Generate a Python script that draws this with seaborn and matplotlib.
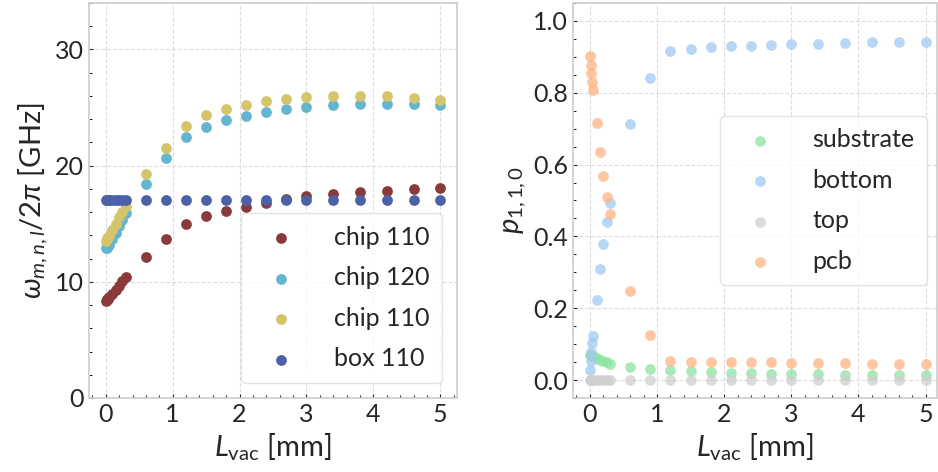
import numpy as np
import pandas as pd
import matplotlib
matplotlib.use("Agg")
import matplotlib.pyplot as plt
from matplotlib.ticker import MultipleLocator
import seaborn as sns

# =========================
# DATA
# =========================
L_vac = [0, 0.0125, 0.025, 0.0375, 0.05, 0.1, 0.15, 0.2, 0.25, 0.3,
         0.6, 0.9, 1.2, 1.5, 1.8, 2.1, 2.4, 2.7, 3.0, 3.4, 3.8, 4.2, 4.6, 5.0]

# mode frequencies [GHz]
chip_110_a = [8.32, 8.40, 8.48, 8.56, 8.65, 8.98, 9.32, 9.68, 10.03, 10.38,
              12.13, 13.65, 14.94, 15.66, 16.12, 16.46, 16.80, 17.12, 17.35,
              17.55, 17.69, 17.84, 17.95, 18.04]
chip_120 = [12.88, 12.95, 13.02, 13.10, 13.18, 13.65, 14.20, 14.80, 15.35, 15.92,
            18.44, 20.62, 22.48, 23.34, 23.95, 24.29, 24.60, 24.86, 25.04,
            25.18, 25.27, 25.29, 25.29, 25.24]
chip_110_b = [13.55, 13.65, 13.75, 13.85, 13.95, 14.50, 15.00, 15.55, 16.05, 16.50,
              19.27, 21.54, 23.40, 24.32, 24.86, 25.24, 25.52, 25.72, 25.87,
              25.95, 25.95, 25.95, 25.84, 25.67]
box_110 = [17.0] * len(L_vac)

freq_labels = ["chip 110", "chip 120", "chip 110", "box 110"]
freq_colors = ["#8a3a3a", "#63b5d0", "#d4c46a", "#4b62a6"]

# participation ratios
substrate = [0.070, 0.069, 0.068, 0.067, 0.066, 0.062, 0.057, 0.053, 0.049, 0.045,
             0.035, 0.031, 0.027, 0.024, 0.022, 0.020, 0.019, 0.018, 0.017,
             0.016, 0.015, 0.014, 0.014, 0.013]
bottom = [0.028, 0.054, 0.077, 0.102, 0.124, 0.224, 0.308, 0.378, 0.440, 0.494,
          0.714, 0.840, 0.917, 0.923, 0.927, 0.929, 0.931, 0.933, 0.935,
          0.937, 0.938, 0.940, 0.941, 0.941]
top = [0.0005] * len(L_vac)
pcb = [0.901, 0.877, 0.854, 0.830, 0.808, 0.715, 0.635, 0.569, 0.511, 0.461,
       0.249, 0.126, 0.054, 0.051, 0.050, 0.050, 0.049, 0.049, 0.048,
       0.048, 0.047, 0.046, 0.045, 0.045]

p_labels = ["substrate", "bottom", "top", "pcb"]
p_colors = ["#8de5a1", "#a1c9f4", "#cfcfcf", "#ffb482"]

# =========================
# STYLE
# =========================
sns.set_theme(style="whitegrid")
plt.rcParams["font.family"] = ["Lato", "DejaVu Sans"]
plt.rcParams["mathtext.fontset"] = "custom"
plt.rcParams["mathtext.rm"] = "Lato"
plt.rcParams["mathtext.it"] = "Lato:italic"
plt.rcParams["axes.edgecolor"] = "#cfcfcf"
plt.rcParams["grid.linestyle"] = "--"
plt.rcParams["grid.color"] = "#dddddd"
plt.rcParams["grid.linewidth"] = 0.8
plt.rcParams["text.color"] = "#262626"

legend_kw = dict(fontsize=18, handlelength=2.2, handletextpad=1.0,
                 labelspacing=0.7, borderpad=0.5,
                 framealpha=0.8, edgecolor="#dddddd")

fig = plt.figure(figsize=(9.38, 4.72), dpi=100)
ax1 = fig.add_axes([0.0949, 0.1568, 0.3923, 0.8369])
ax2 = fig.add_axes([0.6109, 0.1568, 0.3880, 0.8369])

# =========================
# LEFT: frequencies
# =========================
for yvals, lab, col in zip([chip_110_a, chip_120, chip_110_b, box_110],
                           freq_labels, freq_colors):
    sns.scatterplot(x=L_vac, y=yvals, color=col, label=lab, s=60,
                    linewidth=0, ax=ax1)

ax1.set_xlim(-0.25, 5.25)
ax1.set_ylim(0, 34)
ax1.yaxis.set_major_locator(MultipleLocator(10))
ax1.yaxis.set_minor_locator(MultipleLocator(2))
ax1.xaxis.set_major_locator(MultipleLocator(1))
ax1.xaxis.set_minor_locator(MultipleLocator(0.2))
ax1.set_xlabel(r"$L_{\rm vac}$ [mm]", fontsize=21)
ax1.set_ylabel(r"$\omega_{m,n,l}/2\pi$ [GHz]", fontsize=21)
ax1.legend(loc="lower right", borderaxespad=0.6, **legend_kw)

# =========================
# RIGHT: participation
# =========================
for yvals, lab, col in zip([substrate, bottom, top, pcb], p_labels, p_colors):
    sns.scatterplot(x=L_vac, y=yvals, color=col, label=lab, s=60,
                    linewidth=0, alpha=0.75, ax=ax2)

ax2.set_xlim(-0.25, 5.17)
ax2.set_ylim(-0.05, 1.05)
ax2.yaxis.set_major_locator(MultipleLocator(0.2))
ax2.yaxis.set_minor_locator(MultipleLocator(0.05))
ax2.xaxis.set_major_locator(MultipleLocator(1))
ax2.xaxis.set_minor_locator(MultipleLocator(0.2))
ax2.set_xlabel(r"$L_{\rm vac}$ [mm]", fontsize=21)
ax2.set_ylabel(r"$p_{1,1,0}$", fontsize=21)
ax2.legend(loc="center right", borderaxespad=0.4, **legend_kw)

for ax in (ax1, ax2):
    ax.tick_params(which="both", direction="in", left=True, bottom=True,
                   colors="#262626", labelsize=18)
    ax.tick_params(which="major", length=3, width=0.8)
    ax.tick_params(which="minor", length=2, width=0.8)
    ax.grid(True, which="major")

fig.savefig("out.png", dpi=100)
